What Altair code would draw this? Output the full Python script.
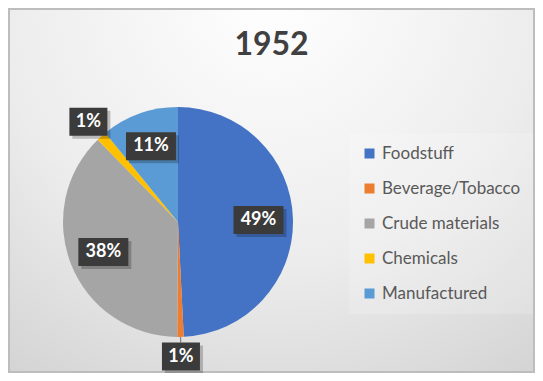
import math
import altair as alt
import pandas as pd

# ---- data ----
categories = ["Foodstuff", "Beverage/Tobacco", "Crude materials", "Chemicals", "Manufactured"]
shares = [49.2, 0.9, 37.6, 1.4, 10.9]
colors = ["#4472C4", "#ED7D31", "#A5A5A5", "#FFC000", "#5B9BD5"]
title_text = "1952"

# ---- layout / style ----
W, H = 527, 365
CX, CY, R = 170, 214, 115
FONT = "Lato"

df = pd.DataFrame({"category": categories, "share": shares, "idx": list(range(len(categories)))})

# label placement derived from the slice angles
total = sum(shares)
lab_rows, lead_rows = [], []
cum = 0.0
for cat, v in zip(categories, shares):
    frac = v / total
    mid = (cum + frac / 2) * 2 * math.pi
    cum += frac
    outside = frac < 0.05
    lr = R * 1.17 if outside else R * 0.7
    lx = CX + lr * math.sin(mid)
    ly = CY - lr * math.cos(mid)
    txt = f"{round(v)}%"
    bw = 14 + 12 * len(txt)
    bh = 28
    lab_rows.append({"category": cat, "label": txt, "lx": lx, "ly": ly,
                     "bx1": lx - bw / 2, "bx2": lx + bw / 2,
                     "by1": ly - bh / 2, "by2": ly + bh / 2,
                     "sx1": lx - bw / 2 + 3, "sx2": lx + bw / 2 + 3,
                     "sy1": ly - bh / 2 + 3, "sy2": ly + bh / 2 + 3})
    if outside:
        dx, dy = math.sin(mid), -math.cos(mid)
        t = min((bw / 2) / max(abs(dx), 1e-6), (bh / 2) / max(abs(dy), 1e-6))
        r_end = lr - t
        if r_end > R + 2:
            lead_rows.append({"x1": CX + R * dx, "y1": CY + R * dy,
                              "x2": CX + r_end * dx, "y2": CY + r_end * dy})
labels = pd.DataFrame(lab_rows)
leads = pd.DataFrame(lead_rows if lead_rows else [{"x1": 0, "y1": 0, "x2": 0, "y2": 0}])
one = pd.DataFrame({"a": [0]})

bg = alt.Chart(one).mark_rect(
    color=alt.Gradient(
        gradient="radial",
        stops=[alt.GradientStop(offset=0, color="#ffffff"),
               alt.GradientStop(offset=0.55, color="#ececec"),
               alt.GradientStop(offset=1, color="#cfcfcf")],
        x1=0.5, y1=0.12, r1=0, x2=0.5, y2=0.12, r2=0.95),
    stroke="#bdbdbd", strokeWidth=2,
).encode(x=alt.value(1), x2=alt.value(W - 1), y=alt.value(1), y2=alt.value(H - 1))

pie = alt.Chart(df).mark_arc(outerRadius=R).encode(
    theta=alt.Theta("share:Q", stack=True),
    order=alt.Order("idx:Q", sort="ascending"),
    color=alt.Color("category:N", sort=categories,
                    scale=alt.Scale(domain=categories, range=colors),
                    legend=alt.Legend(title=None, orient="none", legendX=341, legendY=125,
                                      symbolType="square", symbolSize=100, symbolStrokeWidth=0,
                                      labelFont=FONT, labelFontSize=17, labelColor="#595959",
                                      labelOffset=4, rowPadding=17, padding=12,
                                      fillColor="rgba(255,255,255,0.18)")),
    x=alt.value(CX), y=alt.value(CY),
)

lead = alt.Chart(leads).mark_rule(color="#7f7f7f", strokeWidth=1.2).encode(
    x=alt.X("x1:Q", scale=None), y=alt.Y("y1:Q", scale=None),
    x2="x2:Q", y2="y2:Q")

shadow = alt.Chart(labels).mark_rect(color="#000000", opacity=0.22).encode(
    x=alt.X("sx1:Q", scale=None), x2="sx2:Q",
    y=alt.Y("sy1:Q", scale=None), y2="sy2:Q")

boxes = alt.Chart(labels).mark_rect(color="#3b3b3b").encode(
    x=alt.X("bx1:Q", scale=None), x2="bx2:Q",
    y=alt.Y("by1:Q", scale=None), y2="by2:Q")

texts = alt.Chart(labels).mark_text(font=FONT, fontSize=18, fontWeight="bold",
                                    color="#ffffff", align="center", baseline="middle").encode(
    x=alt.X("lx:Q", scale=None), y=alt.Y("ly:Q", scale=None), text="label:N")

title = alt.Chart(one).mark_text(text=title_text, font=FONT, fontSize=32, fontWeight="bold",
                                 color="#404040", align="center", baseline="alphabetic").encode(
    x=alt.value(W / 2), y=alt.value(47))

chart = alt.layer(bg, pie, lead, shadow, boxes, texts, title).properties(
    width=W, height=H, padding=0, autosize=alt.AutoSizeParams(type="none"),
).configure_view(strokeWidth=0)

chart.save("out.html", embed_options={"renderer": "svg", "actions": False})
